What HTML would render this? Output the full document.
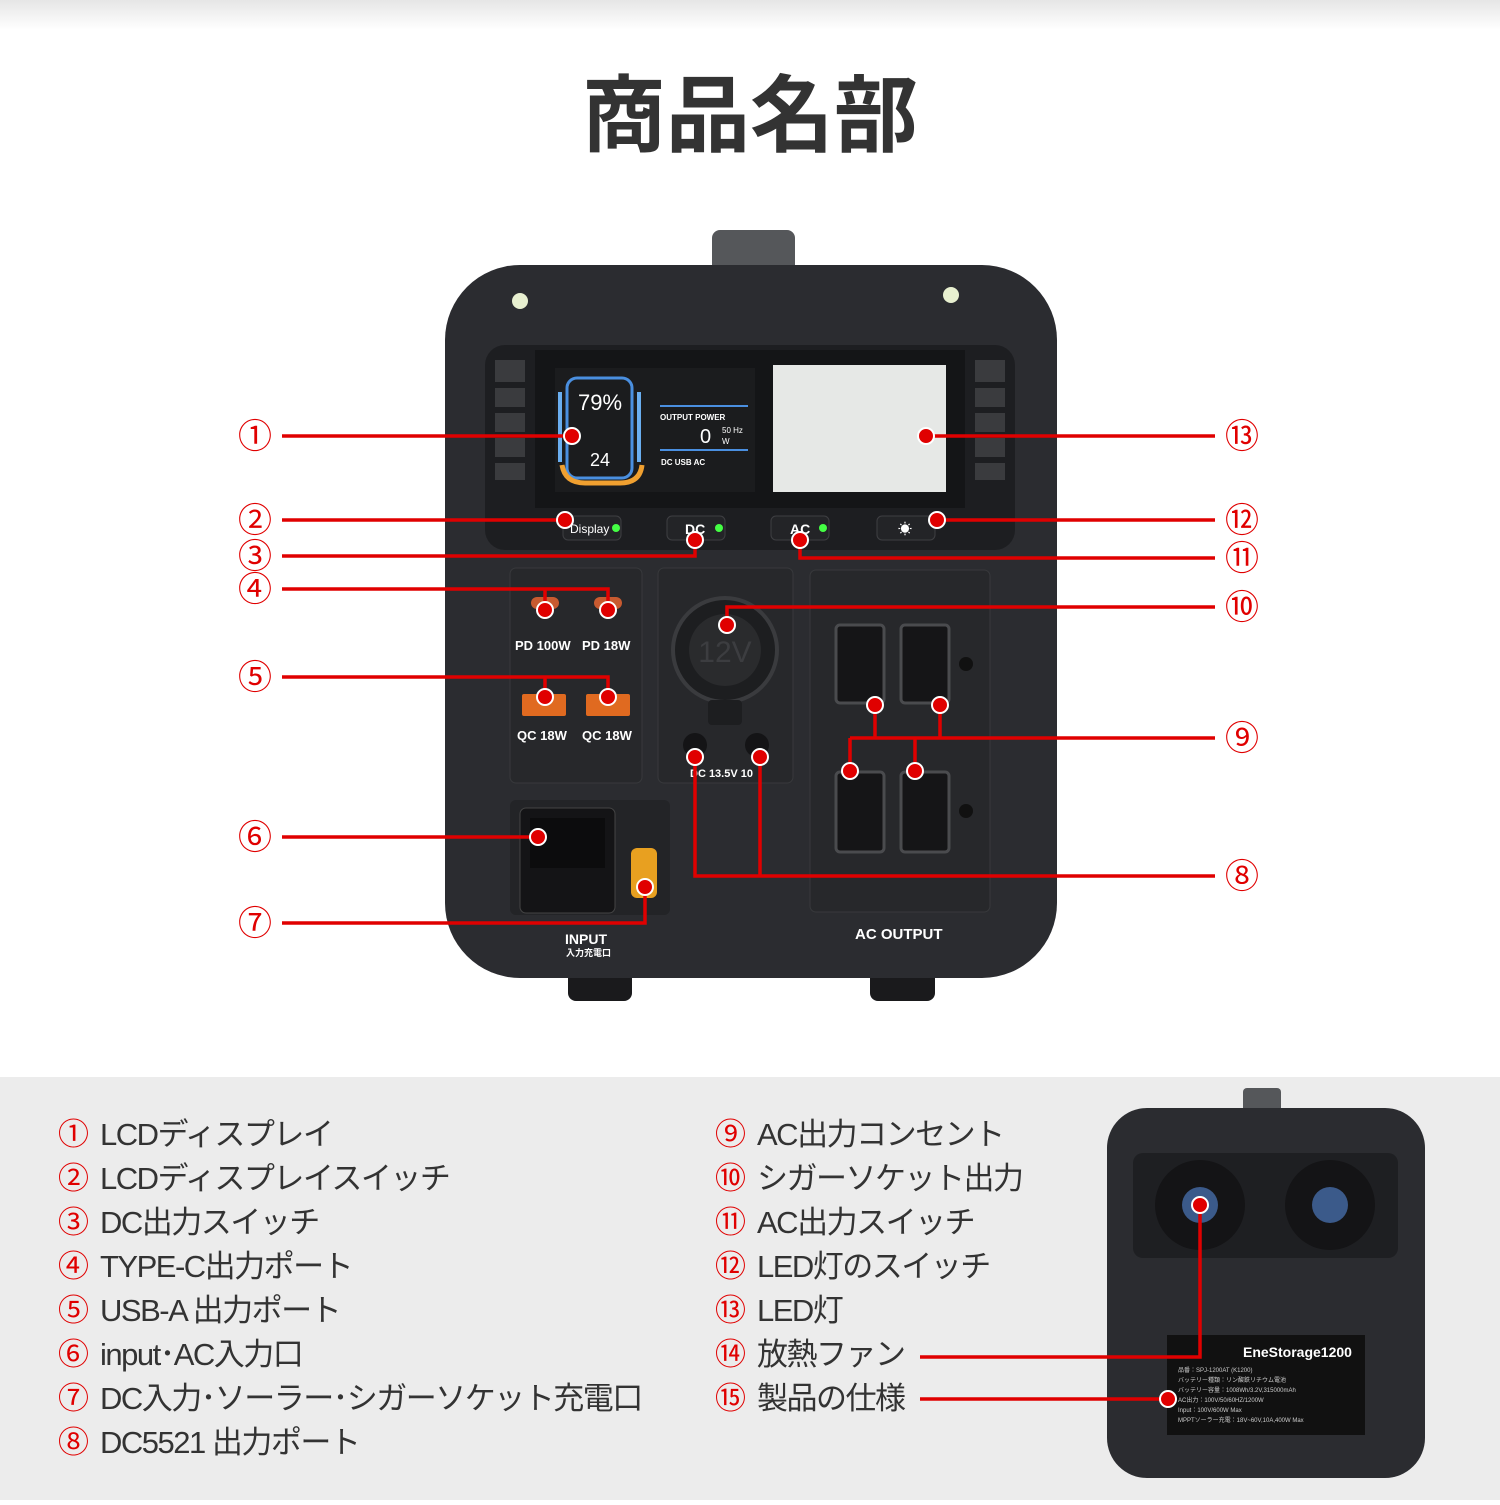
<!DOCTYPE html><html><head><meta charset="utf-8"><style>
body{margin:0;width:1500px;height:1500px;overflow:hidden;background:#fff;font-family:"Liberation Sans","Noto Sans CJK JP",sans-serif}
</style></head><body>
<svg width="1500" height="1500" viewBox="0 0 1500 1500" xmlns="http://www.w3.org/2000/svg" font-family="Liberation Sans, Noto Sans CJK JP, sans-serif">
<defs><linearGradient id="tg" x1="0" y1="0" x2="0" y2="1"><stop offset="0" stop-color="#e6e6e6"/><stop offset="1" stop-color="#fff"/></linearGradient></defs>
<rect x="0" y="0" width="1500" height="30" fill="url(#tg)"/>
<text x="750" y="145" text-anchor="middle" font-size="84" font-weight="bold" fill="#333" font-family="Noto Sans CJK JP, sans-serif">商品名部</text>
<!-- device -->
<rect x="712" y="230" width="83" height="45" rx="8" fill="#55575a"/>
<rect x="568" y="965" width="64" height="36" rx="8" fill="#1a1a1c"/>
<rect x="870" y="965" width="65" height="36" rx="8" fill="#1a1a1c"/>
<rect x="445" y="265" width="612" height="713" rx="75" fill="#2b2c30"/>
<circle cx="520" cy="301" r="8" fill="#e8f0d0"/><circle cx="951" cy="295" r="8" fill="#e8f0d0"/>
<rect x="485" y="345" width="530" height="205" rx="20" fill="#1d1e21"/>
<g fill="#3a3b3e"><rect x="495" y="360" width="30" height="120"/><rect x="975" y="360" width="30" height="120"/></g>
<g stroke="#1d1e21" stroke-width="6"><line x1="495" y1="385" x2="525" y2="385"/><line x1="495" y1="410" x2="525" y2="410"/><line x1="495" y1="435" x2="525" y2="435"/><line x1="495" y1="460" x2="525" y2="460"/><line x1="975" y1="385" x2="1005" y2="385"/><line x1="975" y1="410" x2="1005" y2="410"/><line x1="975" y1="435" x2="1005" y2="435"/><line x1="975" y1="460" x2="1005" y2="460"/></g>
<rect x="535" y="350" width="430" height="158" fill="#141517"/>
<rect x="555" y="368" width="200" height="124" fill="#1b1c1e"/>
<rect x="567" y="378" width="65" height="100" rx="10" fill="none" stroke="#4a8fe0" stroke-width="3"/>
<path d="M562 465 Q565 483 585 483 L620 483 Q640 483 642 465" fill="none" stroke="#f0a030" stroke-width="5"/>
<g fill="#6aaef0"><rect x="558" y="392" width="4" height="70"/><rect x="637" y="392" width="4" height="70"/></g>
<text x="600" y="410" text-anchor="middle" fill="#fff" font-size="22">79%</text>
<text x="600" y="466" text-anchor="middle" fill="#fff" font-size="18">24</text>
<line x1="660" y1="406" x2="748" y2="406" stroke="#4a8fe0" stroke-width="2"/><line x1="660" y1="450" x2="748" y2="450" stroke="#4a8fe0" stroke-width="2"/>
<text x="660" y="420" fill="#fff" font-size="8" font-weight="bold">OUTPUT POWER</text>
<text x="700" y="443" fill="#fff" font-size="20">0</text><text x="722" y="433" fill="#fff" font-size="8">50 Hz</text><text x="722" y="444" fill="#fff" font-size="8">W</text>
<text x="661" y="465" fill="#fff" font-size="8" font-weight="bold">DC    USB    AC</text>
<rect x="773" y="365" width="173" height="127" fill="#e6e8e6"/>
<g fill="#232427" stroke="#3e3f42"><rect x="563" y="516" width="58" height="24" rx="5"/><rect x="667" y="516" width="58" height="24" rx="5"/><rect x="771" y="516" width="58" height="24" rx="5"/><rect x="877" y="516" width="58" height="24" rx="5"/></g>
<text x="570" y="533" fill="#fff" font-size="12">Display</text><text x="685" y="534" fill="#fff" font-size="14" font-weight="bold">DC</text><text x="790" y="534" fill="#fff" font-size="14" font-weight="bold">AC</text><text x="898" y="534" fill="#fff" font-size="14">☀</text>
<g fill="#4f4"><circle cx="616" cy="528" r="4"/><circle cx="719" cy="528" r="4"/><circle cx="823" cy="528" r="4"/></g>
<g fill="#27282b" stroke="#38393c"><rect x="510" y="568" width="132" height="215" rx="6"/><rect x="658" y="568" width="135" height="215" rx="6"/><rect x="810" y="570" width="180" height="342" rx="6"/></g>
<rect x="510" y="800" width="160" height="115" rx="6" fill="#232427"/>
<rect x="520" y="808" width="95" height="105" rx="6" fill="#141416" stroke="#444"/>
<rect x="530" y="818" width="75" height="50" fill="#0c0c0d"/>
<rect x="631" y="848" width="26" height="50" rx="6" fill="#e8a020"/>
<g fill="#c85a30"><rect x="531" y="597" width="28" height="12" rx="6"/><rect x="594" y="597" width="28" height="12" rx="6"/></g>
<g fill="#e06a20"><rect x="522" y="694" width="44" height="22" rx="2"/><rect x="586" y="694" width="44" height="22" rx="2"/></g>
<g fill="#fff" font-size="13" font-weight="bold"><text x="515" y="650">PD 100W</text><text x="582" y="650">PD 18W</text><text x="517" y="740">QC 18W</text><text x="582" y="740">QC 18W</text><text x="690" y="777" font-size="11">DC 13.5V 10</text><text x="565" y="944" font-size="14">INPUT</text><text x="566" y="956" font-size="9">入力充電口</text><text x="855" y="939" font-size="15">AC OUTPUT</text></g>
<circle cx="725" cy="650" r="52" fill="#1d1e20" stroke="#3a3b3e" stroke-width="4"/><circle cx="725" cy="650" r="36" fill="#2a2b2d"/><text x="725" y="662" text-anchor="middle" font-size="30" fill="#3c3d40">12V</text>
<rect x="708" y="700" width="34" height="25" rx="4" fill="#1d1e20"/>
<circle cx="695" cy="745" r="12" fill="#141416"/><circle cx="757" cy="745" r="12" fill="#141416"/>
<g fill="#151517" stroke="#4a4b4e" stroke-width="3"><rect x="836" y="625" width="48" height="78" rx="4"/><rect x="901" y="625" width="48" height="78" rx="4"/><rect x="836" y="772" width="48" height="80" rx="4"/><rect x="901" y="772" width="48" height="80" rx="4"/></g>
<circle cx="966" cy="664" r="7" fill="#111"/><circle cx="966" cy="811" r="7" fill="#111"/>
<!-- bottom -->
<rect x="0" y="1077" width="1500" height="423" fill="#ececec"/>
<rect x="1243" y="1088" width="38" height="25" rx="4" fill="#55575a"/>
<rect x="1107" y="1108" width="318" height="370" rx="40" fill="#2b2c30"/>
<rect x="1133" y="1153" width="265" height="105" rx="10" fill="#1e1f22"/>
<circle cx="1200" cy="1205" r="45" fill="#141416"/><circle cx="1330" cy="1205" r="45" fill="#141416"/>
<circle cx="1200" cy="1205" r="18" fill="#3b5a8a"/><circle cx="1330" cy="1205" r="18" fill="#3b5a8a"/>
<rect x="1167" y="1335" width="198" height="100" fill="#111"/>
<text x="1243" y="1357" fill="#fff" font-size="14" font-weight="bold">EneStorage1200</text>
<g fill="#ccc" font-size="6"><text x="1178" y="1372">品番：SPJ-1200AT (K1200)</text><text x="1178" y="1382">バッテリー種類：リン酸鉄リチウム電池</text><text x="1178" y="1392">バッテリー容量：1008Wh/3.2V,315000mAh</text><text x="1178" y="1402">AC出力：100V/50/60HZ/1200W</text><text x="1178" y="1412">Input：100V/600W Max</text><text x="1178" y="1422">MPPTソーラー充電：18V~60V,10A,400W Max</text></g>
<g font-size="31" fill="#333" font-family="Liberation Sans, Noto Sans CJK JP, sans-serif">
<g fill="#e00000"><text x="58" y="1145">①</text><text x="58" y="1189">②</text><text x="58" y="1233">③</text><text x="58" y="1277">④</text><text x="58" y="1321">⑤</text><text x="58" y="1365">⑥</text><text x="58" y="1409">⑦</text><text x="58" y="1453">⑧</text>
<text x="715" y="1145">⑨</text><text x="715" y="1189">⑩</text><text x="715" y="1233">⑪</text><text x="715" y="1277">⑫</text><text x="715" y="1321">⑬</text><text x="715" y="1365">⑭</text><text x="715" y="1409">⑮</text></g>
<g letter-spacing="-1.5">
<text x="100" y="1145">LCDディスプレイ</text><text x="100" y="1189">LCDディスプレイスイッチ</text><text x="100" y="1233">DC出力スイッチ</text><text x="100" y="1277">TYPE-C出力ポート</text><text x="100" y="1321">USB-A 出力ポート</text><text x="100" y="1365">input･AC入力口</text><text x="100" y="1409">DC入力･ソーラー･シガーソケット充電口</text><text x="100" y="1453">DC5521 出力ポート</text>
<text x="757" y="1145">AC出力コンセント</text><text x="757" y="1189">シガーソケット出力</text><text x="757" y="1233">AC出力スイッチ</text><text x="757" y="1277">LED灯のスイッチ</text><text x="757" y="1321">LED灯</text><text x="757" y="1365">放熱ファン</text><text x="757" y="1409">製品の仕様</text>
</g></g>
<!-- red lines -->
<g stroke="#e00000" stroke-width="3.5" fill="none">
<line x1="282" y1="436" x2="572" y2="436"/><line x1="282" y1="520" x2="565" y2="520"/>
<polyline points="282,556 695,556 695,540"/><polyline points="282,589 608,589 608,610"/><line x1="545" y1="589" x2="545" y2="610"/>
<polyline points="282,677 608,677 608,697"/><line x1="545" y1="677" x2="545" y2="697"/>
<line x1="282" y1="837" x2="538" y2="837"/><polyline points="282,923 645,923 645,887"/>
<polyline points="695,757 695,876 1215,876"/><line x1="760" y1="757" x2="760" y2="876"/>
<line x1="850" y1="738" x2="1215" y2="738"/><line x1="875" y1="705" x2="875" y2="738"/><line x1="940" y1="705" x2="940" y2="738"/><line x1="850" y1="738" x2="850" y2="771"/><line x1="915" y1="738" x2="915" y2="771"/>
<polyline points="727,625 727,607 1215,607"/><polyline points="800,540 800,558 1215,558"/>
<line x1="937" y1="520" x2="1215" y2="520"/><line x1="926" y1="436" x2="1215" y2="436"/>
<polyline points="920,1357 1200,1357 1200,1205"/><line x1="920" y1="1399" x2="1168" y2="1399"/>
</g>
<g fill="#e00000" stroke="#fff" stroke-width="2">
<circle cx="572" cy="436" r="8"/><circle cx="565" cy="520" r="8"/><circle cx="695" cy="540" r="8"/><circle cx="545" cy="610" r="8"/><circle cx="608" cy="610" r="8"/><circle cx="545" cy="697" r="8"/><circle cx="608" cy="697" r="8"/><circle cx="538" cy="837" r="8"/><circle cx="645" cy="887" r="8"/><circle cx="695" cy="757" r="8"/><circle cx="760" cy="757" r="8"/><circle cx="875" cy="705" r="8"/><circle cx="940" cy="705" r="8"/><circle cx="850" cy="771" r="8"/><circle cx="915" cy="771" r="8"/><circle cx="727" cy="625" r="8"/><circle cx="800" cy="540" r="8"/><circle cx="937" cy="520" r="8"/><circle cx="926" cy="436" r="8"/><circle cx="1200" cy="1205" r="8"/><circle cx="1168" cy="1399" r="8"/>
</g>
<g fill="#e00000" font-size="34" text-anchor="middle">
<text x="255" y="448">①</text><text x="255" y="532">②</text><text x="255" y="568">③</text><text x="255" y="601">④</text><text x="255" y="689">⑤</text><text x="255" y="849">⑥</text><text x="255" y="935">⑦</text>
<text x="1242" y="888">⑧</text><text x="1242" y="750">⑨</text><text x="1242" y="619">⑩</text><text x="1242" y="570">⑪</text><text x="1242" y="532">⑫</text><text x="1242" y="448">⑬</text>
</g>
</svg>
</body></html>
